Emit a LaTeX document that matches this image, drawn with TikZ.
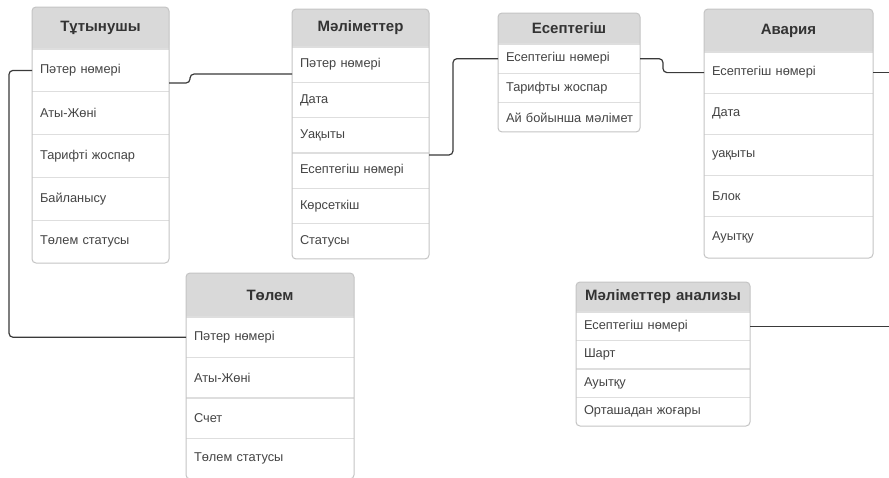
\documentclass[tikz,border=0pt]{standalone}
\usepackage{fontspec}
\setmainfont{Liberation Sans}
\usetikzlibrary{calc}
\definecolor{hdrfill}{HTML}{D9D9D9}
\definecolor{framec}{HTML}{C4C4C4}
\definecolor{sepc}{HTML}{DEDEDE}
\definecolor{rowtext}{HTML}{444444}
\definecolor{hdrtext}{HTML}{333333}
\definecolor{connc}{HTML}{3A3A3A}
\tikzset{
  hdrnode/.style={anchor=north west, inner xsep=8pt, inner ysep=0pt, outer sep=0pt,
    align=center, text=hdrtext, font=\bfseries\fontsize{15}{18}\selectfont},
  rownode/.style={anchor=north west, inner xsep=8pt, inner ysep=0pt, outer sep=0pt,
    align=left, text=rowtext, font=\fontsize{12.8}{15}\selectfont},
  framebox/.style={draw=framec, line width=1pt, rounded corners=4pt},
  sepline/.style={draw=sepc, line width=1.2pt},
  conn/.style={draw=connc, line width=1.2pt, rounded corners=4pt}
}
% #1 prefix, #2 x, #3 y, #4 width, #5 header height, #6 row height, #7 rows, #8 header, #9 row list
\newcommand{\erbox}[9]{%
  \pgfmathsetmacro{\tw}{#4-16}%
  \fill[hdrfill, rounded corners=4pt] (#2,#3) rectangle ++(#4,#5);
  \fill[hdrfill] (#2,{#3+#5/2}) rectangle ++(#4,#5/2);
  \node[hdrnode, text width=\tw pt, minimum height=#5pt] (#1h) at (#2,#3) {#8};
  \foreach \t [count=\i] in {#9} {
    \node[rownode, text width=\tw pt, minimum height=#6pt] (#1\i) at (#2,{#3+#5+(\i-1)*#6}) {\mbox{\t}};
    \draw[sepline] (#1\i.north west) -- (#1\i.north east);
  }
  \draw[framebox] (#1h.north west) rectangle (#1#7.south east);
}
\begin{document}
\begin{tikzpicture}[x=1pt,y=-1pt]
\clip (0,0) rectangle (889,477);
\fill[white] (0,0) rectangle (889,477);

\erbox{ta}{32}{7}{137}{42}{42.8}{5}{Тұтынушы}{Пәтер нөмері,Аты-Жөні,Тарифті жоспар,Байланысу,Төлем статусы}
\erbox{tb}{292}{9}{137}{38}{35.33}{6}{Мәліметтер}{Пәтер нөмері,Дата,Уақыты,Есептегіш нөмері,Көрсеткіш,Статусы}
\erbox{tc}{498}{13}{142}{31}{29.33}{3}{Есептегіш}{Есептегіш нөмері,Тарифты жоспар,Ай бойынша мәлімет}
\erbox{td}{704}{9}{169}{43}{41.2}{5}{Авария}{Есептегіш нөмері,Дата,уақыты,Блок,Ауытқу}
\erbox{te}{186}{273}{168}{44}{40.5}{4}{Төлем}{Пәтер нөмері,Аты-Жөні,Счет,Төлем статусы}
\erbox{tf}{576}{282}{174}{30}{28.5}{4}{Мәліметтер анализы}{Есептегіш нөмері,Шарт,Ауытқу,Орташадан жоғары}

\coordinate (outA) at ($(td1.east)+(40,0)$);
\coordinate (outB) at ($(tf1.east)+(160,0)$);

\draw[conn] (ta1.west) -- ++(-23,0) |- (te1.west);
\draw[conn] ([yshift=-12.6pt]ta1.east) -- ++(21,0) |- ([yshift=-9.4pt]tb1.west);
\draw[conn] ([yshift=15.7pt]tb4.east) -- ++(24,0) |- (tc1.west);
\draw[conn] (tc1.east) -- ++(23,0) |- (td1.west);
\draw[conn] (td1.east) -- (outA);
\draw[conn] (tf1.east) -- (outB);
\end{tikzpicture}
\end{document}
